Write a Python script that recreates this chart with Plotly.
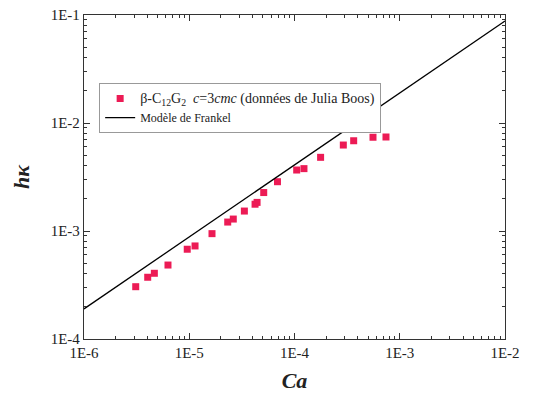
import plotly.graph_objects as go

# Data
ca_values = [3.10e-6, 4.03e-6, 4.66e-6, 6.28e-6, 9.57e-6, 1.135e-5, 1.645e-5,
             2.32e-5, 2.62e-5, 3.34e-5, 4.22e-5, 4.41e-5, 5.10e-5, 6.89e-5,
             1.049e-4, 1.23e-4, 1.77e-4, 2.91e-4, 3.65e-4, 5.57e-4, 7.40e-4]
hk_values = [3.05e-4, 3.73e-4, 4.06e-4, 4.84e-4, 6.78e-4, 7.27e-4, 9.45e-4,
             1.21e-3, 1.29e-3, 1.53e-3, 1.77e-3, 1.84e-3, 2.27e-3, 2.86e-3,
             3.67e-3, 3.78e-3, 4.81e-3, 6.25e-3, 6.85e-3, 7.38e-3, 7.42e-3]

frankel_ca = [1e-6, 1e-2]
frankel_hk = [1.9e-4, 8.8e-2]

x_tickvals = [1e-6, 1e-5, 1e-4, 1e-3, 1e-2]
x_ticktext = ["1E-6", "1E-5", "1E-4", "1E-3", "1E-2"]
y_tickvals = [1e-4, 1e-3, 1e-2, 1e-1]
y_ticktext = ["1E-4", "1E-3", "1E-2", "1E-1"]

FONT = "Liberation Serif, Times New Roman, DejaVu Serif, serif"

def minor_vals(decades):
    return [m * d for d in decades[:-1] for m in range(2, 10)]

fig = go.Figure()
fig.add_trace(go.Scatter(
    x=ca_values, y=hk_values, mode="markers",
    marker=dict(symbol="square", size=7, color="#EC1B55"),
    name=('<span style="font-size:14px">β-C<sub>12</sub>G<sub>2</sub>&nbsp;&nbsp;'
          '<i>c</i>=3<i>cmc</i> (données de Julia Boos)</span>'),
))
fig.add_trace(go.Scatter(
    x=frankel_ca, y=frankel_hk, mode="lines",
    line=dict(color="black", width=1.3),
    name="Modèle de Frankel",
))

axis_common = dict(
    type="log", showgrid=False, zeroline=False, automargin=False,
    showline=True, linecolor="#333333", linewidth=1.3, mirror="ticks",
    ticks="inside", ticklen=6, tickcolor="#333333", tickwidth=1,
    tickfont=dict(family=FONT, size=15, color="#222222"),
)

fig.update_xaxes(
    **axis_common,
    range=[-6, -2],
    tickvals=x_tickvals, ticktext=x_ticktext,
    minor=dict(tickvals=minor_vals(x_tickvals), ticks="inside", ticklen=3,
               tickcolor="#333333", showgrid=False),
    title=dict(text="<b><i>Ca</i></b>", font=dict(family=FONT, size=22, color="#222222"),
               standoff=12),
)
fig.update_yaxes(
    **axis_common,
    range=[-4, -1],
    tickvals=y_tickvals, ticktext=y_ticktext,
    minor=dict(tickvals=minor_vals(y_tickvals), ticks="inside", ticklen=3,
               tickcolor="#333333", showgrid=False),
    title=dict(text="<b><i>hκ</i></b>", font=dict(family=FONT, size=22, color="#222222"),
               standoff=14),
)

fig.update_layout(
    width=542, height=394,
    margin=dict(l=84, r=37, t=15, b=55),
    plot_bgcolor="white", paper_bgcolor="white",
    font=dict(family=FONT, color="#222222"),
    legend=dict(
        x=0.036, y=0.79, xanchor="left", yanchor="top",
        bgcolor="white", bordercolor="#999999", borderwidth=1,
        font=dict(family=FONT, size=12, color="#222222"),
        tracegroupgap=0,
    ),
    showlegend=True,
)

fig.write_html("out.html", config={"displayModeBar": False},
               post_script="document.body.style.margin='0';")
